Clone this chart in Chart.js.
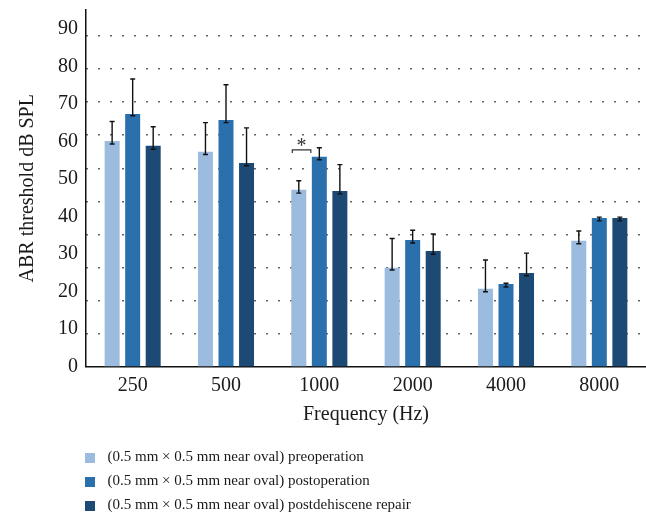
<!DOCTYPE html>
<html>
<head>
<meta charset="utf-8">
<script src="https://cdn.jsdelivr.net/npm/chart.js@4.4.1/dist/chart.umd.min.js"></script>
<style>
    html, body { margin: 0; padding: 0; background: #fff; }
</style>
</head>
<body>
<canvas id="myChart" width="646" height="512"></canvas>
<script>
// frequencies on the x axis
var frequencies = ["250", "500", "1000", "2000", "4000", "8000"];
var seriesNames = [
    "(0.5 mm \u00d7 0.5 mm near oval) preoperation",
    "(0.5 mm \u00d7 0.5 mm near oval) postoperation",
    "(0.5 mm \u00d7 0.5 mm near oval) postdehiscene repair"
];
var seriesColors = ["#9bbbdf", "#2a70ad", "#1c4a75"];

// ABR threshold (dB SPL)
var preop  = [60.1, 57.2, 47.1, 26.3, 20.7, 33.5];
var postop = [67.3, 65.7, 55.9, 33.7, 22.0, 39.6];
var repair = [58.8, 54.2, 46.8, 30.8, 24.9, 39.6];

// error bar ends (low / high)
var preopLow   = [59.3, 56.5, 46.2, 25.7, 19.9, 32.7];
var preopHigh  = [65.3, 65.0, 49.5, 34.1, 28.4, 36.1];
var postopLow  = [66.8, 65.0, 55.1, 32.9, 21.2, 38.8];
var postopHigh = [76.6, 75.1, 58.3, 36.3, 22.2, 39.8];
var repairLow  = [57.9, 53.5, 46.0, 29.9, 24.2, 38.8];
var repairHigh = [63.9, 63.6, 53.8, 35.3, 30.2, 39.8];

var yTicks = [0, 10, 20, 30, 40, 50, 60, 70, 80, 90];

// significance mark: "*" between preop and postop at 1000 Hz
var sigCategory = "1000";
var sigLevel = 57.7;

var errLow = [preopLow, postopLow, repairLow];
var errHigh = [preopHigh, postopHigh, repairHigh];
var serif = "'Liberation Serif', 'DejaVu Serif', serif";

// legend swatch: square on the left, blank gap on the right
function swatch(color) {
    var c = document.createElement("canvas");
    c.width = 15;
    c.height = 10;
    var g = c.getContext("2d");
    g.fillStyle = color;
    g.fillRect(0, 0, 10, 10);
    return c;
}

var errorBars = {
    id: "errorBars",
    afterDatasetsDraw: function (chart) {
        var ctx = chart.ctx, y = chart.scales.y;
        ctx.save();
        ctx.strokeStyle = "#111";
        ctx.lineWidth = 1.4;
        for (var i = 0; i < chart.data.datasets.length; i++) {
            var meta = chart.getDatasetMeta(i);
            for (var j = 0; j < meta.data.length; j++) {
                var x = meta.data[j].x;
                var yl = y.getPixelForValue(errLow[i][j]);
                var yh = y.getPixelForValue(errHigh[i][j]);
                ctx.beginPath();
                ctx.moveTo(x, yl); ctx.lineTo(x, yh);
                ctx.moveTo(x - 2.5, yl); ctx.lineTo(x + 2.5, yl);
                ctx.moveTo(x - 2.5, yh); ctx.lineTo(x + 2.5, yh);
                ctx.stroke();
            }
        }
        // bracket and asterisk
        var k = frequencies.indexOf(sigCategory);
        var b0 = chart.getDatasetMeta(0).data[k], b1 = chart.getDatasetMeta(1).data[k];
        var left = b0.x - b0.width / 2 + 1, right = b1.x - b1.width / 2 - 1;
        var by = y.getPixelForValue(sigLevel);
        ctx.strokeStyle = "#333";
        ctx.lineWidth = 1.2;
        ctx.beginPath();
        ctx.moveTo(left, by + 3); ctx.lineTo(left, by); ctx.lineTo(right, by); ctx.lineTo(right, by + 3);
        ctx.stroke();
        ctx.fillStyle = "#333";
        ctx.font = "20px " + serif;
        ctx.textAlign = "center";
        ctx.textBaseline = "alphabetic";
        ctx.fillText("*", (left + right) / 2, by + 2);
        ctx.restore();
    }
};

// one legend entry per row, placed under the axis title
// (the legend takes no room in the layout, it is put there afterwards)
var legendRows = {
    id: "legendRows",
    beforeLayout: function (chart) {
        var lg = chart.legend;
        if (lg && !lg._rowPatch) {
            var orig = lg.update;
            lg.update = function (mw, mh, m) {
                var r = orig.call(this, Math.min(mw, 430), mh, m);
                this._fullHeight = this.height;
                this.height = 0;
                return r;
            };
            lg._rowPatch = true;
        }
    },
    afterLayout: function (chart) {
        var lg = chart.legend;
        lg.left = 76;
        lg.right = 646;
        lg.top = 441;
        lg.bottom = 441 + lg._fullHeight;
        lg.height = lg._fullHeight;
    }
};

var dts = [];
[preop, postop, repair].forEach(function (vals, i) {
    dts.push({
        label: seriesNames[i],
        data: vals,
        backgroundColor: seriesColors[i],
        borderWidth: 0,
        pointStyle: swatch(seriesColors[i]),
        barPercentage: 0.73,
        categoryPercentage: 0.66
    });
});

var ctx = document.getElementById("myChart").getContext("2d");
var mychart = new Chart(ctx, {
    type: "bar",
    data: { labels: frequencies, datasets: dts },
    options: {
        responsive: false,
        animation: false,
        layout: { padding: { top: 10, right: 0, bottom: 0, left: 0 } },
        plugins: {
            tooltip: { enabled: false },
            legend: {
                position: "bottom",
                align: "start",
                labels: {
                    usePointStyle: true,
                    pointStyleWidth: 15,
                    boxWidth: 10,
                    boxHeight: 10,
                    padding: 9,
                    color: "#1a1a1a",
                    font: { family: serif, size: 15 }
                }
            }
        },
        scales: {
            x: {
                grid: { display: false, drawTicks: false },
                border: { color: "#111", width: 1.5 },
                ticks: { color: "#1a1a1a", padding: 9, font: { family: serif, size: 20, lineHeight: 1 } },
                title: {
                    display: true,
                    text: "Frequency (Hz)",
                    color: "#1a1a1a",
                    padding: { top: 0, bottom: 87.5 },
                    font: { family: serif, size: 20, lineHeight: 1 }
                }
            },
            y: {
                min: 0,
                max: 95,
                grid: { display: false, drawTicks: false },
                border: { color: "#111", width: 1.5 },
                afterBuildTicks: function (axis) {
                    axis.ticks = yTicks.map(function (v) { return { value: v }; });
                },
                afterFit: function (axis) {
                    axis.paddingTop = 0;
                },
                ticks: { color: "#1a1a1a", padding: 8, font: { family: serif, size: 20 } },
                title: {
                    display: true,
                    text: "ABR threshold dB SPL",
                    color: "#1a1a1a",
                    padding: { top: 16, bottom: 10 },
                    font: { family: serif, size: 20 }
                }
            },
            y2: {
                position: "right",
                min: 0,
                max: 107.9,
                ticks: { display: false, stepSize: 10 },
                border: { display: false, dash: [2, 10] },
                grid: {
                    drawTicks: false,
                    lineWidth: 1.5,
                    color: function (c) {
                        var v = c.tick ? c.tick.value : 0;
                        return (v > 0 && v % 10 === 0) ? "#666" : "rgba(0,0,0,0)";
                    }
                }
            }
        }
    },
    plugins: [errorBars, legendRows]
});
</script>
</body>
</html>
